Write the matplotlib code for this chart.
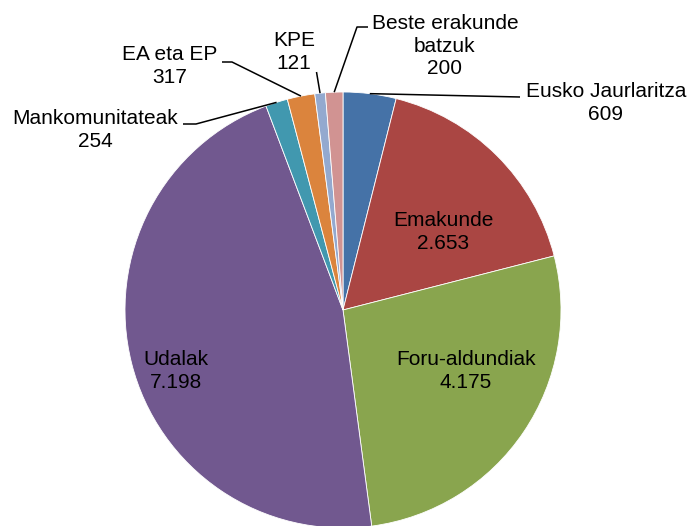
import matplotlib.pyplot as plt
import numpy as np

plt.rcParams["font.family"] = ["Liberation Sans", "DejaVu Sans"]

labels = ["Eusko Jaurlaritza", "Emakunde", "Foru-aldundiak", "Udalak",
          "Mankomunitateak", "EA eta EP", "KPE", "Beste erakunde\nbatzuk"]
values = [609, 2653, 4175, 7198, 254, 317, 121, 200]
colors = ["#4572A7", "#AA4643", "#89A54E", "#71588F",
          "#4198AF", "#DB843D", "#93A9CF", "#D19392"]

W, H = 691, 526
CX, CY, R = 343, H - 310, 218

# label block centres (pixels from top-left) and leader-line bend points
label_pos = [(606, 103), (443, 232), (466, 371), (176, 371),
             (95, 130), (170, 66), (294, 52), (445, 46)]
leaders = {
    0: [(520, 97)],
    4: [(196, 124), (183, 124)],
    5: [(232, 62), (222, 62)],
    6: [(316.5, 72)],
    7: [(357, 27), (368, 27)],
}


def px(x, y):
    return x, H - y


def fmt(v):
    return f"{v:,}".replace(",", ".")


fig = plt.figure(figsize=(W / 100, H / 100), dpi=100)
ax = fig.add_axes([0, 0, 1, 1])

ax.pie(values, colors=colors, startangle=90, counterclock=False,
       center=(CX, CY), radius=R, frame=True,
       wedgeprops=dict(edgecolor="white", linewidth=0.6))
ax.set_xlim(0, W)
ax.set_ylim(0, H)
ax.axis("off")

total = sum(values)
cum = np.cumsum([0] + values[:-1])
for i, (lab, v) in enumerate(zip(labels, values)):
    mid = (cum[i] + v / 2) / total
    theta = np.deg2rad(90 - 360 * mid)
    edge = (CX + R * np.cos(theta), CY + R * np.sin(theta))
    x, y = px(*label_pos[i])
    ax.text(x, y, f"{lab}\n{fmt(v)}", ha="center", va="center",
            fontsize=15, linespacing=1.22, color="black")
    if i in leaders:
        pts = [edge] + [px(*p) for p in leaders[i]]
        xs, ys = zip(*pts)
        ax.plot(xs, ys, color="black", linewidth=1.1, solid_capstyle="butt")

fig.savefig("out.png", dpi=100)
